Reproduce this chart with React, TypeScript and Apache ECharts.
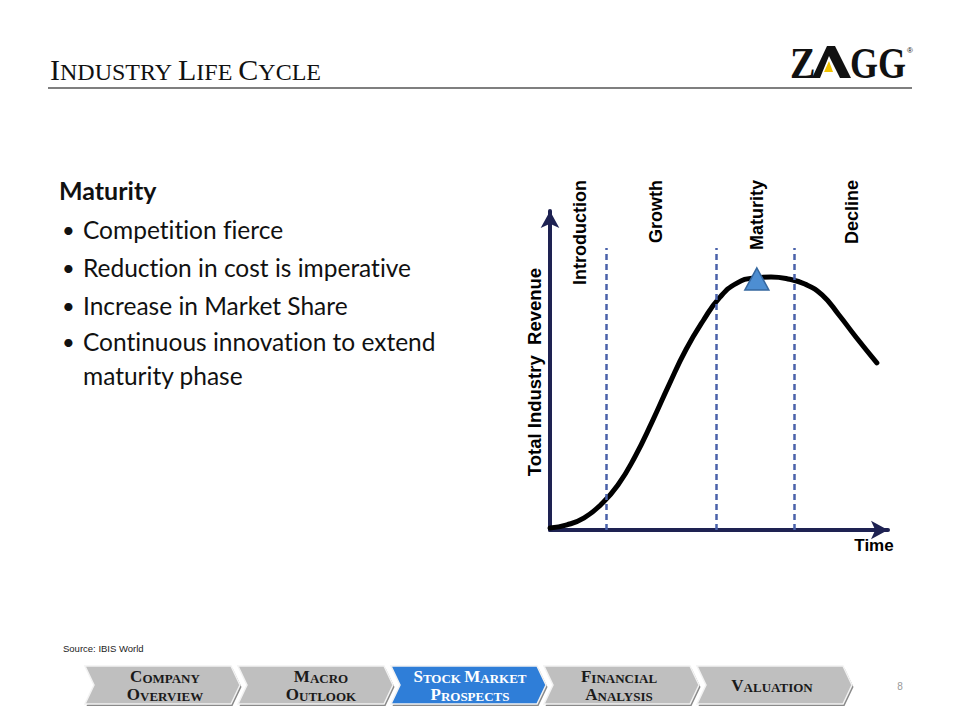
import React, { useEffect, useRef } from 'react';
import * as echarts from 'echarts';

// ---- data ----
const curveTime = [0, 5.0, 10.1, 15.1, 20.1, 25.1, 30.2, 35.2, 40.2, 45.3, 50.3, 55.3, 60.4, 65.4, 70.4, 75.4, 80.5, 85.5, 90.5, 96.7];
const curveRevenue = [0.6, 1.6, 3.8, 8.0, 14.1, 22.9, 33.9, 45.5, 56.5, 65.6, 73.0, 77.4, 79.0, 79.3, 78.7, 77.1, 73.7, 67.4, 60.5, 52.4];
const phaseNames = ['Introduction', 'Growth', 'Maturity', 'Decline'];
const phaseBoundaries = [16.6, 49.1, 72.2];
const boundaryTop = 88.4;
const peakMarker = [61.2, 78.7];
const yAxisTitle = 'Total Industry  Revenue';
const xAxisTitle = 'Time';
const slideTitle = 'Industry Life Cycle';
const bulletHeading = 'Maturity';
const bulletItems = [
  ['Competition fierce'],
  ['Reduction in cost is imperative'],
  ['Increase in Market Share'],
  ['Continuous innovation to extend', 'maturity phase'],
];
const sourceNote = 'Source: IBIS World';
const navItems = [['Company', 'Overview'], ['Macro', 'Outlook'], ['Stock Market', 'Prospects'], ['Financial', 'Analysis'], ['Valuation']];
const activeNav = 2;
const pageNumber = '8';

// ---- layout ----
const phaseLabelX = [580, 656, 757, 852];
const bulletY = [229, 267, 305, 341];
const wrapGap = 34;
const navX0 = 85;
const navStep = 153;
const navW = 155;
const navDepth = 9;
const navTop = 666;
const navBottom = 704;
const navTextX = [165, 321, 470, 619, 772];

function smallCaps(s: string) {
  return s
    .split(' ')
    .map((w) => `{b|${w[0].toUpperCase()}}{s|${w.slice(1).toUpperCase()}}`)
    .join('{s| }');
}

export default function App() {
  const ref = useRef<HTMLDivElement>(null);
  useEffect(() => {
    if (!ref.current) return;
    const chart = echarts.init(ref.current, undefined, { renderer: 'svg' });
    const g: any[] = [];

    // title
    g.push({
      type: 'text', x: 50, y: 69,
      style: {
        text: smallCaps(slideTitle), textVerticalAlign: 'middle', fill: '#111',
        rich: {
          b: { fontSize: 30, fontFamily: 'Liberation Serif', fill: '#111', verticalAlign: 'bottom' },
          s: { fontSize: 24, fontFamily: 'Liberation Serif', fill: '#111', verticalAlign: 'bottom' },
        },
      },
    });
    g.push({ type: 'line', shape: { x1: 48, y1: 88, x2: 912, y2: 88 }, style: { stroke: '#000', lineWidth: 1.2 } });

    // logo
    g.push({ type: 'text', x: 790, y: 63, scaleX: 0.85, style: { text: 'Z', fontFamily: 'Liberation Serif', fontWeight: 'bold', fontSize: 45, fill: '#111', textVerticalAlign: 'middle' } });
    g.push({ type: 'polygon', shape: { points: [[812, 78], [827, 46], [835, 46], [851, 78], [840, 78], [829, 56], [820, 78]] }, style: { fill: '#111' } });
    g.push({ type: 'polygon', shape: { points: [[824, 72], [829, 61], [833, 72]] }, style: { fill: '#F2C200' } });
    g.push({ type: 'text', x: 850, y: 63, scaleX: 0.8, style: { text: 'GG', fontFamily: 'Liberation Serif', fontWeight: 'bold', fontSize: 45, fill: '#111', textVerticalAlign: 'middle' } });
    g.push({ type: 'text', x: 907, y: 50, style: { text: '®', fontFamily: 'Liberation Sans', fontSize: 8, fill: '#111', textVerticalAlign: 'middle' } });

    // left bullets
    g.push({ type: 'text', x: 59, y: 190, style: { text: bulletHeading, fontFamily: 'Lato', fontWeight: 'bold', fontSize: 25, fill: '#111', textVerticalAlign: 'middle' } });
    bulletItems.forEach((lines, i) => {
      g.push({ type: 'text', x: 62, y: bulletY[i], style: { text: '•', fontFamily: 'Lato', fontSize: 22, fill: '#111', textVerticalAlign: 'middle' } });
      lines.forEach((ln, j) => {
        g.push({ type: 'text', x: 83, y: bulletY[i] + j * wrapGap, style: { text: ln, fontFamily: 'Lato', fontSize: 24.5, fill: '#111', textVerticalAlign: 'middle' } });
      });
    });

    // phase labels
    phaseNames.forEach((p, i) => {
      g.push({ type: 'text', x: phaseLabelX[i], y: 180, rotation: Math.PI / 2, style: { text: p, fontFamily: 'Liberation Sans', fontWeight: 'bold', fontSize: 18, fill: '#000', textAlign: 'right', textVerticalAlign: 'middle' } });
    });
    g.push({ type: 'text', x: 534, y: 372, rotation: Math.PI / 2, style: { text: yAxisTitle, fontFamily: 'Liberation Sans', fontWeight: 'bold', fontSize: 18.5, fill: '#000', textAlign: 'center', textVerticalAlign: 'middle' } });
    g.push({ type: 'text', x: 874, y: 545, style: { text: xAxisTitle, fontFamily: 'Liberation Sans', fontWeight: 'bold', fontSize: 17, fill: '#000', textAlign: 'center', textVerticalAlign: 'middle' } });

    // source + page
    g.push({ type: 'text', x: 63, y: 648, style: { text: sourceNote, fontFamily: 'Liberation Sans', fontSize: 9.5, fill: '#222', textVerticalAlign: 'middle' } });
    g.push({ type: 'text', x: 900, y: 686, style: { text: pageNumber, fontFamily: 'Liberation Sans', fontSize: 10, fill: '#999', textAlign: 'center', textVerticalAlign: 'middle' } });

    // nav bar
    const mid = (navTop + navBottom) / 2;
    navItems.forEach((lines, i) => {
      const x0 = navX0 + i * navStep;
      const pts = (dx: number, dy: number) => [
        [x0 + dx, navTop + dy], [x0 + navW - navDepth + dx, navTop + dy], [x0 + navW + dx, mid + dy],
        [x0 + navW - navDepth + dx, navBottom + dy], [x0 + dx, navBottom + dy], [x0 + navDepth + dx, mid + dy],
      ];
      const active = i === activeNav;
      g.push({ type: 'polygon', shape: { points: pts(1.5, 2) }, style: { fill: '#8A8A8A' } });
      g.push({ type: 'polygon', shape: { points: pts(0, 0) }, style: { fill: active ? '#2F7ED8' : '#BFBFBF', stroke: '#F2F2F2', lineWidth: 1.5 } });
      const col = active ? '#FFFFFF' : '#1A1A1A';
      const rich = {
        b: { fontSize: 17, fontFamily: 'Liberation Serif', fontWeight: 'bold', fill: col, verticalAlign: 'bottom' },
        s: { fontSize: 13, fontFamily: 'Liberation Serif', fontWeight: 'bold', fill: col, verticalAlign: 'bottom' },
      };
      lines.forEach((ln, j) => {
        const y = lines.length === 1 ? mid : (j === 0 ? 676 : 694);
        g.push({ type: 'text', x: navTextX[i], y, style: { text: smallCaps(ln), fill: col, textAlign: 'center', textVerticalAlign: 'middle', rich } });
      });
    });

    const axisCommon = {
      type: 'value', min: 0, max: 100,
      axisTick: { show: false }, axisLabel: { show: false }, splitLine: { show: false },
    };

    chart.setOption({
      animation: false,
      backgroundColor: '#ffffff',
      grid: { left: 550, right: 72, top: 211, bottom: 190, outerBoundsMode: 'none' },
      xAxis: {
        ...axisCommon,
        axisLine: { show: true, onZero: false, symbol: ['none', 'arrow'], symbolSize: [14, 17], lineStyle: { color: '#1E2252', width: 4 } },
      },
      yAxis: {
        ...axisCommon,
        axisLine: { show: true, onZero: false, symbol: ['none', 'arrow'], symbolSize: [14, 17], lineStyle: { color: '#1E2252', width: 4 } },
      },
      series: [
        {
          type: 'line', data: [], z: 1, silent: true,
          markLine: {
            silent: true, symbol: 'none', label: { show: false },
            lineStyle: { color: '#4A62AA', width: 2.5, type: [6, 4] },
            data: phaseBoundaries.map((b) => [{ coord: [b, 0] }, { coord: [b, boundaryTop] }]),
          },
        },
        {
          type: 'line', z: 3, smooth: 0.5, symbol: 'none',
          data: curveTime.map((t, i) => [t, curveRevenue[i]]),
          lineStyle: { color: '#000', width: 5, cap: 'round' },
        },
        {
          type: 'scatter', z: 5, symbol: 'triangle', symbolSize: [24, 22],
          data: [peakMarker],
          itemStyle: { color: '#4D8ED2', borderColor: '#35679F', borderWidth: 1.5, opacity: 1 },
        },
      ],
      graphic: { elements: g },
    });
    return () => chart.dispose();
  }, []);
  return (
    <div
      ref={ref}
      style={{ position: 'fixed', left: 0, top: 0, width: 960, height: 720, background: '#fff', fontVariantLigatures: 'none' }}
    />
  );
}
